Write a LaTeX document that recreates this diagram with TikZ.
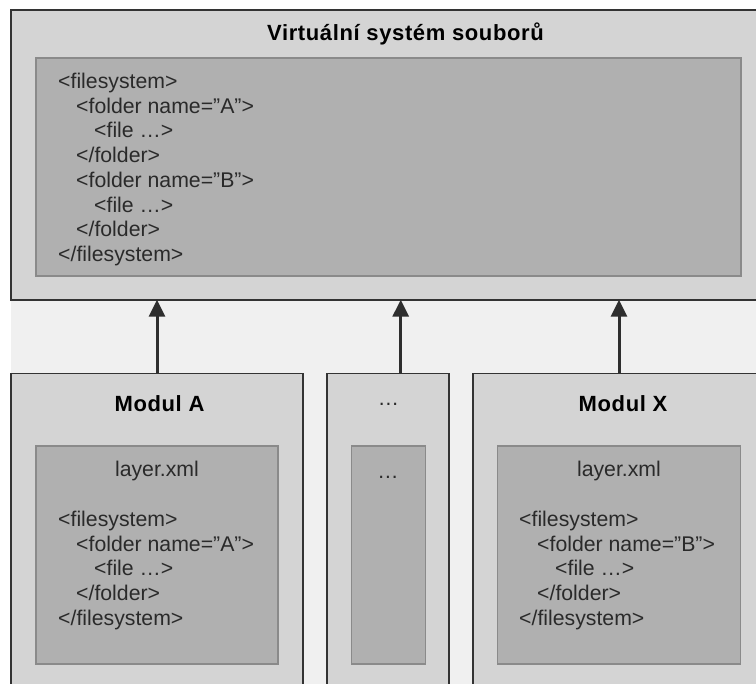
\documentclass[tikz,border=0pt]{standalone}
\usepackage{fontspec}
\setmainfont{Liberation Sans}
\newfontfamily\hdfont[LetterSpace=2.8]{Liberation Sans}
\usetikzlibrary{arrows.meta}
\tikzset{
  x=1pt,y=-1pt,
  outerbox/.style={draw=black!80,line width=1.9pt,fill=outerfill,outer sep=0pt,inner sep=0pt,anchor=north west},
  innerbox/.style={draw=innerline,line width=1.8pt,fill=innerfill,outer sep=0pt,inner sep=0pt,anchor=north west},
  code/.style={anchor=north west,inner sep=0pt,align=left,text=textdark,font=\fontsize{21.25}{24.7}\selectfont},
  plain/.style={anchor=base,inner sep=0pt,text=textdark,font=\fontsize{21.25}{24.7}\selectfont},
  heading/.style={anchor=base,inner sep=0pt,text=black,font=\fontsize{22}{26}\hdfont\bfseries},
  link/.style={draw=black!82,line width=3pt,-{Triangle[width=16pt,length=17pt]},shorten >=-0.5pt},
}
\definecolor{outerfill}{HTML}{D4D4D4}
\definecolor{innerfill}{HTML}{B0B0B0}
\definecolor{innerline}{HTML}{8A8A8A}
\definecolor{band}{HTML}{F0F0F0}
\definecolor{textdark}{HTML}{2A2A2A}
\newcommand{\ind}[1]{\hspace*{#1pt}}
\begin{document}
\begin{tikzpicture}
\useasboundingbox (0,0) rectangle (756,684);
\clip (0,0) rectangle (756,684);
\fill[band] (11,300) rectangle (756,684);
% outer boxes
\node[outerbox,minimum width=760pt,minimum height=290.5pt] (top) at (11,9.7) {};
\node[outerbox,minimum width=292pt,minimum height=330pt] (moda) at (11,373.5) {};
\node[outerbox,minimum width=122pt,minimum height=330pt] (dots) at (327,373.5) {};
\node[outerbox,minimum width=300pt,minimum height=330pt] (modx) at (473,373.5) {};
% inner boxes
\node[innerbox,minimum width=705pt,minimum height=218pt] (topin) at (36,58) {};
\node[innerbox,minimum width=242pt,minimum height=218pt] (modain) at (36,446) {};
\node[innerbox,minimum width=74pt,minimum height=218pt] (dotsin) at (351.5,446) {};
\node[innerbox,minimum width=243pt,minimum height=218pt] (modxin) at (497.5,446) {};
% texts
\node[heading] (toptitle) at (405.5,41) {Virtuální systém souborů};
\node[heading] (modatitle) at (159.5,412) {Modul A};
\node[heading] (modxtitle) at (623,412) {Modul X};
\node[plain] (dotstitle) at (388.5,406) {…};
\node[plain] (dotsintext) at (388,479) {…};
\node[plain] (modalayer) at (157,477) {layer.xml};
\node[plain] (modxlayer) at (619,477) {layer.xml};
\node[code] (topcode) at (58,73) {<filesystem>\\
\ind{18}<folder name=”A”>\\
\ind{36}<file …>\\
\ind{18}</folder>\\
\ind{18}<folder name=”B”>\\
\ind{36}<file …>\\
\ind{18}</folder>\\
</filesystem>};
\node[code] (modacode) at (58,511) {<filesystem>\\
\ind{18}<folder name=”A”>\\
\ind{36}<file …>\\
\ind{18}</folder>\\
</filesystem>};
\node[code] (modxcode) at (519,511) {<filesystem>\\
\ind{18}<folder name=”B”>\\
\ind{36}<file …>\\
\ind{18}</folder>\\
</filesystem>};
% connectors
\draw[link] (moda.north) -- (moda.north |- top.south);
\draw[link] ([xshift=12.7pt]dots.north) -- ([xshift=12.7pt]dots.north |- top.south);
\draw[link] ([xshift=-4pt]modx.north) -- ([xshift=-4pt]modx.north |- top.south);
\end{tikzpicture}
\end{document}
